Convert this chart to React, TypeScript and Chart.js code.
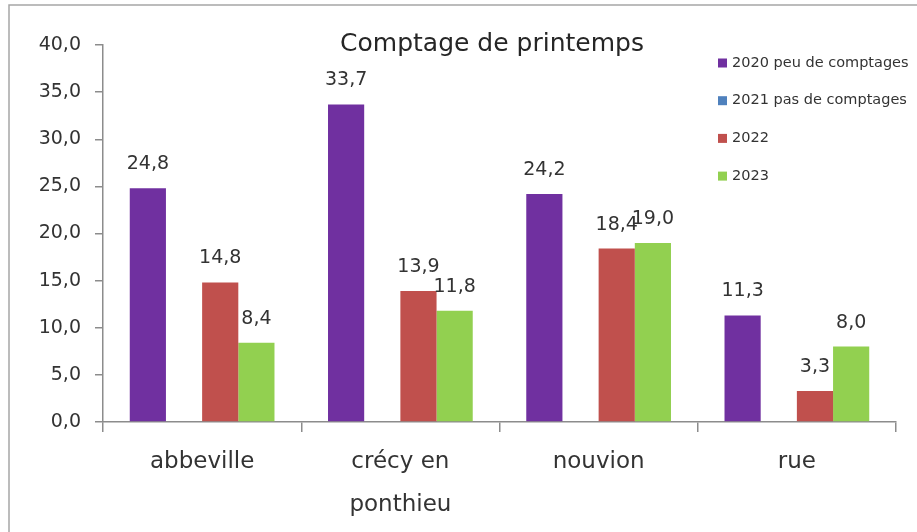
import React, { useEffect, useRef } from "react";
import { Chart, registerables } from "chart.js";

Chart.register(...registerables);

// ---- data ----
const categories: (string | string[])[] = ["abbeville", ["crécy en", "ponthieu"], "nouvion", "rue"];
const seriesNames = ["2020 peu de comptages", "2021 pas de comptages", "2022", "2023"];
const values2020 = [24.8, 33.7, 24.2, 11.3];
const values2021: (number | null)[] = [null, null, null, null];
const values2022 = [14.8, 13.9, 18.4, 3.3];
const values2023 = [8.4, 11.8, 19.0, 8.0];
const seriesColors = ["#7030A0", "#4F81BD", "#C0504D", "#92D050"];
const yMin = 0;
const yMax = 40;
const yStep = 5;
const chartTitle = "Comptage de printemps";

const FONT = "'DejaVu Sans', sans-serif";
const TEXT = "#333333";
const AXIS = "#8c8c8c";

const fmt = (v: number) => v.toFixed(1).replace(".", ",");

const decorPlugin = {
  id: "decor",
  beforeDraw(chart: any) {
    const ctx = chart.ctx;
    ctx.save();
    ctx.fillStyle = "#ffffff";
    ctx.fillRect(0, 0, chart.width, chart.height);
    ctx.strokeStyle = "#a6a6a6";
    ctx.lineWidth = 1.5;
    ctx.beginPath();
    ctx.moveTo(9, chart.height);
    ctx.lineTo(9, 5);
    ctx.lineTo(chart.width, 5);
    ctx.stroke();
    ctx.restore();
  },
  afterDraw(chart: any) {
    const ctx = chart.ctx;
    ctx.save();
    // title
    ctx.fillStyle = "#262626";
    ctx.font = `25px ${FONT}`;
    ctx.textAlign = "center";
    ctx.textBaseline = "middle";
    ctx.fillText(chartTitle, 492, 44);
    // data labels
    ctx.fillStyle = TEXT;
    ctx.font = `19px ${FONT}`;
    chart.data.datasets.forEach((ds: any, i: number) => {
      const meta = chart.getDatasetMeta(i);
      meta.data.forEach((bar: any, j: number) => {
        const v = ds.data[j];
        if (v === null || v === undefined) return;
        ctx.fillText(fmt(v), bar.x, bar.y - 24);
      });
    });
    // legend
    ctx.textAlign = "left";
    ctx.font = `14.5px ${FONT}`;
    chart.data.datasets.forEach((ds: any, i: number) => {
      const y = 63 + i * 37.7;
      ctx.fillStyle = ds.backgroundColor;
      ctx.fillRect(718, y - 4.5, 9, 9);
      ctx.fillStyle = TEXT;
      ctx.fillText(ds.label, 732, y);
    });
    ctx.restore();
  },
};

export default function App() {
  const ref = useRef<HTMLCanvasElement | null>(null);
  useEffect(() => {
    if (!ref.current) return;
    const datasets = [values2020, values2021, values2022, values2023].map((d, i) => ({
      label: seriesNames[i],
      data: d,
      backgroundColor: seriesColors[i],
      borderWidth: 0,
      barPercentage: 1,
      categoryPercentage: 0.73,
    }));
    const chart = new Chart(ref.current, {
      type: "bar",
      data: { labels: categories as any, datasets: datasets as any },
      options: {
        animation: false,
        responsive: false,
        layout: { padding: { top: 45, right: 21, bottom: 0, left: 0 } },
        plugins: { legend: { display: false }, title: { display: false }, tooltip: { enabled: false } },
        scales: {
          x: {
            grid: { offset: true, drawOnChartArea: false, tickLength: 10, color: AXIS, lineWidth: 1.5 },
            border: { color: AXIS, width: 1.5 },
            ticks: {
              color: TEXT,
              font: { family: FONT, size: 23, lineHeight: 1.85 },
              padding: 9,
              maxRotation: 0,
              autoSkip: false,
            },
            afterFit: (s: any) => {
              s.height = 110;
            },
          },
          y: {
            min: yMin,
            max: yMax,
            ticks: {
              stepSize: yStep,
              color: TEXT,
              font: { family: FONT, size: 19 },
              padding: 14,
              callback: (v: any) => fmt(Number(v)),
            },
            grid: { drawOnChartArea: false, tickLength: 8, color: AXIS, lineWidth: 1.5 },
            border: { color: AXIS, width: 1.5 },
            afterFit: (s: any) => {
              s.width = 103;
            },
          },
        },
      },
      plugins: [decorPlugin],
    });
    return () => chart.destroy();
  }, []);
  return (
    <canvas
      ref={ref}
      width={917}
      height={532}
      style={{ position: "fixed", left: 0, top: 0, width: 917, height: 532 }}
    />
  );
}
